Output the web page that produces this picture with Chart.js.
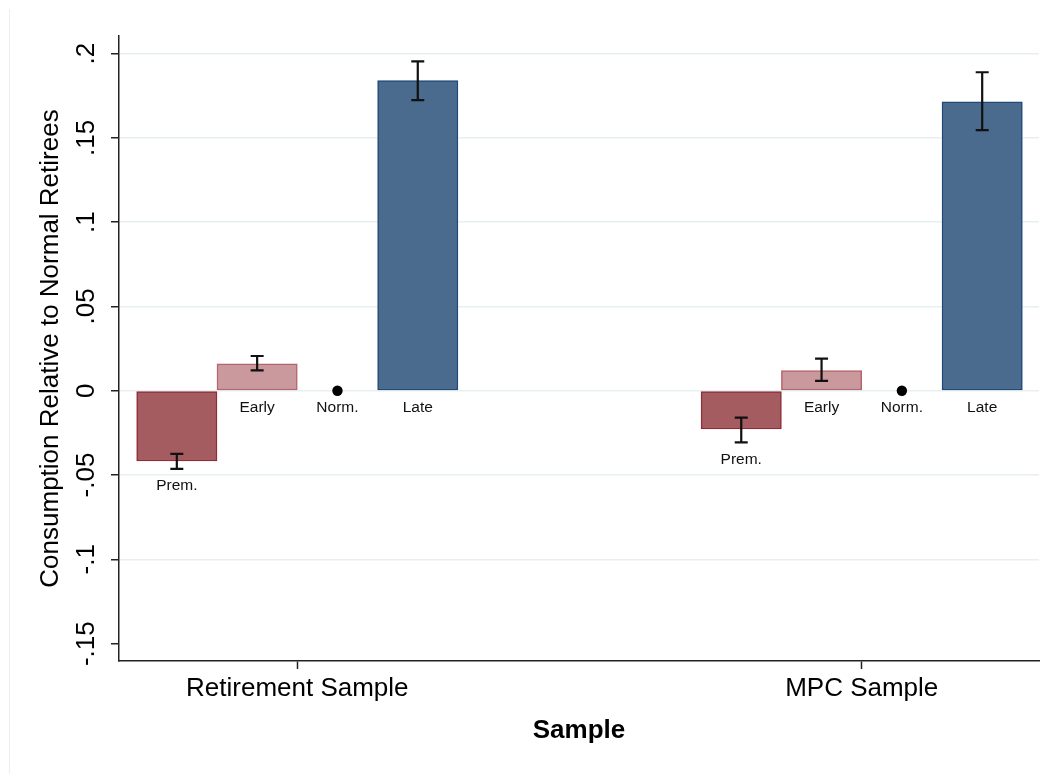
<!DOCTYPE html>
<html><head><meta charset="utf-8">
<script src="https://cdn.jsdelivr.net/npm/chart.js@4.4.1/dist/chart.umd.min.js"></script>
<style>html,body{margin:0;padding:0;background:#fff;} canvas{display:block;}</style>
</head><body>
<canvas id="c" width="1054" height="774"></canvas>
<script>
// ---- data ----
const samples = ['Retirement Sample', 'MPC Sample'];
const groupLabels = ['Prem.', 'Early', 'Norm.', 'Late'];
const premValues = [-0.0417, -0.0227];
const premLow    = [-0.0463, -0.0306];
const premHigh   = [-0.0375, -0.0160];
const earlyValues = [0.0160, 0.0119];
const earlyLow    = [0.0121, 0.0058];
const earlyHigh   = [0.0206, 0.0190];
const normValues  = [0, 0];
const lateValues  = [0.1839, 0.1714];
const lateLow     = [0.1724, 0.1546];
const lateHigh    = [0.1954, 0.1889];
const yTickValues = [-0.15, -0.1, -0.05, 0, 0.05, 0.1, 0.15, 0.2];
const yTickLabels = ['-.15', '-.1', '-.05', '0', '.05', '.1', '.15', '.2'];
const yTitle = 'Consumption Relative to Normal Retirees';
const xTitle = 'Sample';

// ---- layout / style ----
const SLOT = 0.1423;
const OFFSETS = [-1.5, -0.5, 0.5, 1.5].map(k => k * SLOT);
const FONT = "'Liberation Sans', Arial, sans-serif";
const sampleX = samples.map((s, i) => i + 1);
const pts = (vals, g) => vals.map((v, i) => ({x: sampleX[i] + OFFSETS[g], y: v}));

const series = [
  {values: premValues, low: premLow, high: premHigh},
  {values: earlyValues, low: earlyLow, high: earlyHigh},
  {values: normValues, low: null, high: null},
  {values: lateValues, low: lateLow, high: lateHigh}
];

const barCommon = {type: 'bar', grouped: false, barPercentage: 1, categoryPercentage: 1, borderWidth: 1.5, borderSkipped: false};

const framePlugin = {
  id: 'frame',
  beforeDraw(chart) {
    const ctx = chart.ctx;
    ctx.save();
    ctx.fillStyle = '#fff';
    ctx.fillRect(0, 0, chart.width, chart.height);
    ctx.strokeStyle = '#eeeeee';
    ctx.lineWidth = 1;
    ctx.beginPath();
    ctx.moveTo(9.5, 9);
    ctx.lineTo(9.5, chart.height);
    ctx.stroke();
    ctx.restore();
  }
};

const errorBarPlugin = {
  id: 'errs',
  afterDatasetsDraw(chart) {
    const {ctx, scales: {x, y}} = chart;
    ctx.save();
    series.forEach((s, g) => {
      s.values.forEach((v, i) => {
        const px = x.getPixelForValue(sampleX[i] + OFFSETS[g]);
        if (s.low) {
          const yl = y.getPixelForValue(s.low[i]);
          const yh = y.getPixelForValue(s.high[i]);
          ctx.strokeStyle = '#111';
          ctx.lineWidth = 2.2;
          ctx.beginPath();
          ctx.moveTo(px, yl); ctx.lineTo(px, yh);
          ctx.moveTo(px - 6.5, yl); ctx.lineTo(px + 6.5, yl);
          ctx.moveTo(px - 6.5, yh); ctx.lineTo(px + 6.5, yh);
          ctx.stroke();
        }
        const base = Math.min(0, s.low ? s.low[i] : v);
        const ly = y.getPixelForValue(base) + 17;
        ctx.fillStyle = '#111';
        ctx.font = '15.5px ' + FONT;
        ctx.textAlign = 'center';
        ctx.textBaseline = 'middle';
        ctx.fillText(groupLabels[g], px, ly);
      });
    });
    ctx.restore();
  }
};

new Chart(document.getElementById('c'), {
  type: 'bar',
  data: {
    datasets: [
      Object.assign({}, barCommon, {label: groupLabels[0], data: pts(premValues, 0), backgroundColor: '#a55c61', borderColor: '#8e2c37'}),
      Object.assign({}, barCommon, {label: groupLabels[1], data: pts(earlyValues, 1), backgroundColor: '#ca999d', borderColor: '#b4646c'}),
      {type: 'scatter', label: groupLabels[2], data: pts(normValues, 2), pointRadius: 5.2, pointBackgroundColor: '#000', pointBorderWidth: 0, backgroundColor: '#000', borderColor: '#000'},
      Object.assign({}, barCommon, {label: groupLabels[3], data: pts(lateValues, 3), backgroundColor: '#4a6b8d', borderColor: '#1f4a78'})
    ]
  },
  options: {
    responsive: false,
    animation: false,
    devicePixelRatio: 1,
    layout: {padding: {left: 0, right: 15, top: 36, bottom: 0}},
    plugins: {legend: {display: false}, tooltip: {enabled: false}, title: {display: false}},
    scales: {
      x: {
        type: 'linear', min: 0.6841, max: 2.3141, offset: false,
        afterBuildTicks: s => { s.ticks = sampleX.map(v => ({value: v})); },
        ticks: {callback: (v, i) => samples[i], font: {family: FONT, size: 26}, color: '#000', padding: 4, autoSkip: false, maxRotation: 0, minRotation: 0},
        grid: {display: true, drawOnChartArea: false, offset: false, tickLength: 8, tickColor: '#222', tickWidth: 1.5},
        border: {display: true, color: '#222', width: 1.5},
        title: {display: true, text: xTitle, font: {family: FONT, size: 26, weight: 'bold'}, color: '#000', padding: {top: 0, bottom: 28}},
        afterFit: s => { s.height = 113; }
      },
      y: {
        type: 'linear', min: -0.1603, max: 0.2104,
        afterBuildTicks: s => { s.ticks = yTickValues.map(v => ({value: v})); },
        ticks: {callback: (v, i) => yTickLabels[i], font: {family: FONT, size: 26}, color: '#000', padding: 1.5, minRotation: 90, maxRotation: 90, crossAlign: 'center', autoSkip: false},
        grid: {
          color: ctx => (ctx.tick && ctx.tick.value === -0.15) ? 'rgba(0,0,0,0)' : '#e8eff1',
          lineWidth: 1.5, tickLength: 8, tickColor: '#222', tickWidth: 1.5, drawTicks: true
        },
        border: {display: true, color: '#222', width: 1.5},
        title: {display: true, text: yTitle, font: {family: FONT, size: 26}, color: '#000', padding: {top: 35, bottom: 0}},
        afterFit: s => { s.width = 119; }
      }
    }
  },
  plugins: [framePlugin, errorBarPlugin]
});
</script>
</body></html>
